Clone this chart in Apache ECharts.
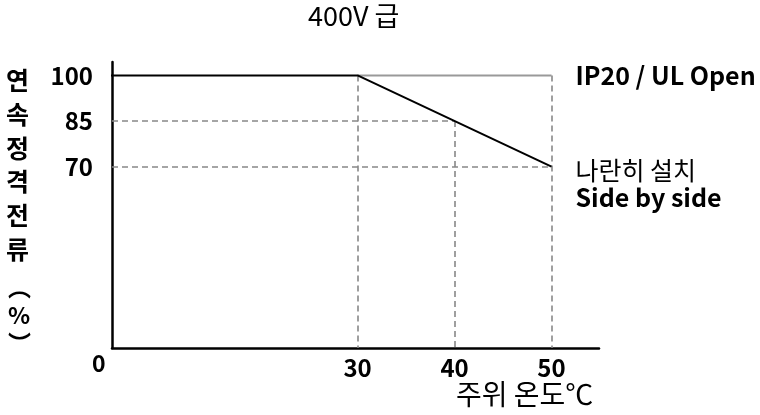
<!DOCTYPE html>
<html>
<head>
<meta charset="utf-8">
<script src="https://cdn.jsdelivr.net/npm/echarts@6/dist/echarts.min.js"></script>
<style>
  html, body { margin: 0; padding: 0; background: #fff; }
  #chart { width: 760px; height: 415px; }
</style>
</head>
<body>
<div id="chart"></div>
<script>
// Derating of continuous rated current vs. ambient temperature (400V class)
const titleText = '400V 급';
const xAxisName = '주위 온도℃';
const yAxisNameTop = '연\n속\n정\n격\n전\n류';
const yAxisNameUnit = '︵\n%\n︶';
const originLabel = '0';

// Broken-axis view: both axes start above zero
const xMin = 4.67, xMax = 54.9;
const yMin = 10.4, yMax = 104.4;
const xTicks = [30, 40, 50];
const yTicks = [70, 85, 100];

// Side-by-side installation: full current up to 30 ℃, then derated to 70 % at 50 ℃
const sideTemps = [0, 30, 50];
const sideCurrent = [100, 100, 70];
const sideName = '나란히 설치';
const sideNameEn = 'Side by side';

// IP20 / UL Open: full current up to 50 ℃
const openTemps = [30, 50];
const openCurrent = [100, 100];
const openName = 'IP20 / UL Open';

// Reading guides (dashed)
const guideH = [[85, 40], [70, 50]];   // [current, temperature where it ends]
const guideV = [[30, 100], [40, 85], [50, 100]]; // [temperature, current at top]

const FONT = '"Noto Sans CJK KR", "Noto Sans", sans-serif';
const chart = echarts.init(document.getElementById('chart'), null, { renderer: 'canvas' });

const guideLines = [];
guideH.forEach(([v, t]) => guideLines.push([{ coord: [xMin, v] }, { coord: [t, v] }]));
guideV.forEach(([t, v]) => guideLines.push([{ coord: [t, v] }, { coord: [t, yMin] }]));

chart.setOption({
  animation: false,
  backgroundColor: '#fff',
  grid: { left: 112, right: 161, top: 62, bottom: 67 },
  xAxis: {
    type: 'value', min: xMin, max: xMax,
    axisLine: { lineStyle: { color: '#000', width: 2.5 } },
    axisTick: { show: false },
    splitLine: { show: false },
    axisLabel: {
      customValues: xTicks, margin: 8,
      fontFamily: FONT, fontSize: 24, fontWeight: 'bold', color: '#000'
    }
  },
  yAxis: {
    type: 'value', min: yMin, max: yMax,
    axisLine: { show: true, lineStyle: { color: '#000', width: 2.5 } },
    axisTick: { show: false },
    splitLine: { show: false },
    axisLabel: {
      customValues: yTicks, margin: 19,
      fontFamily: FONT, fontSize: 24, fontWeight: 'bold', color: '#000'
    }
  },
  graphic: [
    { type: 'text', left: 308, top: 2,
      style: { text: titleText, font: '27px ' + FONT, fill: '#000' } },
    { type: 'text', left: 92, top: 352,
      style: { text: originLabel, font: 'bold 23px ' + FONT, fill: '#000' } },
    { type: 'text', left: 456, top: 380,
      style: { text: xAxisName, font: '28px ' + FONT, fill: '#000' } },
    { type: 'text', left: 6, top: 64,
      style: { text: yAxisNameTop, font: 'bold 25px ' + FONT, lineHeight: 33.7, fill: '#000' } },
    { type: 'text', left: 8, top: 273,
      style: { text: yAxisNameUnit, font: 'bold 23px ' + FONT, lineHeight: 28, fill: '#000' } }
  ],
  series: [
    {
      type: 'line', name: openName,
      data: openTemps.map((t, i) => [t, openCurrent[i]]),
      symbol: 'none', clip: true,
      lineStyle: { color: '#999', width: 2 },
      z: 3,
      endLabel: {
        show: true, distance: 24,
        formatter: () => openName,
        fontFamily: FONT, fontSize: 25, fontWeight: 'bold', color: '#000'
      },
      markLine: {
        silent: true, symbol: 'none', label: { show: false },
        lineStyle: { color: '#888', width: 1.6, type: [6, 4] },
        data: guideLines
      }
    },
    {
      type: 'line', name: sideNameEn,
      data: sideTemps.map((t, i) => [t, sideCurrent[i]]),
      symbol: 'none', clip: true,
      lineStyle: { color: '#000', width: 2 },
      z: 5,
      endLabel: {
        show: true, distance: 24, offset: [0, 17],
        formatter: () => '{a|' + sideName + '}\n{b|' + sideNameEn + '}',
        rich: {
          a: { fontFamily: FONT, fontSize: 25, fontWeight: 'normal', color: '#000', lineHeight: 27 },
          b: { fontFamily: FONT, fontSize: 25, fontWeight: 'bold', color: '#000', lineHeight: 27 }
        }
      }
    }
  ]
});
</script>
</body>
</html>
